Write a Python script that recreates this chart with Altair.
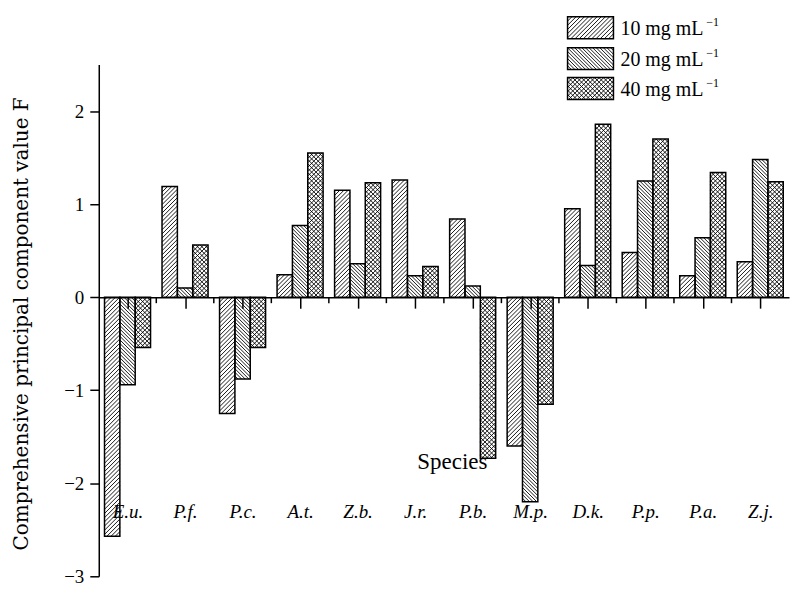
import json
import math
import altair as alt
import pandas as pd

# ---------------- data ----------------
species = ["E.u.", "P.f.", "P.c.", "A.t.", "Z.b.", "J.r.", "P.b.", "M.p.", "D.k.", "P.p.", "P.a.", "Z.j."]
concentrations = ["10 mg mL", "20 mg mL", "40 mg mL"]
unit_exponent = "\u22121"
v10 = [-2.57, 1.19, -1.25, 0.24, 1.15, 1.26, 0.84, -1.60, 0.95, 0.48, 0.23, 0.38]
v20 = [-0.94, 0.10, -0.88, 0.77, 0.36, 0.23, 0.12, -2.20, 0.34, 1.25, 0.64, 1.48]
v40 = [-0.54, 0.56, -0.54, 1.55, 1.23, 0.33, -1.73, -1.15, 1.86, 1.70, 1.34, 1.24]
y_tick_values = [-3.0, -2.5, -2.0, -1.5, -1.0, -0.5, 0.0, 0.5, 1.0, 1.5, 2.0, 2.5]
y_title = "Comprehensive principal component value F"
x_title = "Species"

# ---------------- layout ----------------
W, H = 692, 513
XMIN, XMAX = -0.5, len(species) - 0.5
YMIN, YMAX = -3.0, 2.5
SX = W / (XMAX - XMIN)
SY = H / (YMAX - YMIN)
GROUP = 0.8
BW = GROUP / 3
# hatch definition per concentration: (direction, period in px)
HATCH = [[("/", 4.2)], [("\\", 3.6)], [("/", 4.4), ("\\", 4.4)]]

SERIF = "Liberation Serif"


def hatch_segments(x0, x1, y0, y1, direction, period):
    """Diagonal hatch lines clipped to the rectangle (data units)."""
    gx0, gx1 = (x0 - XMIN) * SX, (x1 - XMIN) * SX
    gy0, gy1 = y0 * SY, y1 * SY
    out = []
    if direction == "/":
        for m in range(math.ceil((gy0 - gx1) / period), math.floor((gy1 - gx0) / period) + 1):
            k = m * period
            a = max(gx0, gy0 - k)
            b = min(gx1, gy1 - k)
            if b - a > 0.4:
                out.append((a, a + k, b, b + k))
    else:
        for m in range(math.ceil((gy0 + gx0) / period), math.floor((gy1 + gx1) / period) + 1):
            k = m * period
            a = max(gx0, k - gy1)
            b = min(gx1, k - gy0)
            if b - a > 0.4:
                out.append((a, k - a, b, k - b))
    return [
        {"hx": a / SX + XMIN, "hy": ay / SY, "hx2": b / SX + XMIN, "hy2": by / SY}
        for a, ay, b, by in out
    ]


series = [v10, v20, v40]
bar_rows, hatch_rows = [], []
for k, vals in enumerate(series):
    for i, (sp, v) in enumerate(zip(species, vals)):
        x0 = i - GROUP / 2 + k * BW
        x1 = x0 + BW
        y0, y1 = min(0.0, v), max(0.0, v)
        bar_rows.append({"species": sp, "conc": concentrations[k], "x0": x0, "x1": x1, "y0": y0, "y1": y1})
        for d, p in HATCH[k]:
            hatch_rows += hatch_segments(x0, x1, y0, y1, d, p)

# legend (layout in px relative to plot top-left, converted to data units)
LEG_X0, LEG_X1 = 470, 516
LEG_TOPS = [-48, -17, 13]
LEG_H = 22
leg_rows, leg_text, leg_sup = [], [], []
for k, top in enumerate(LEG_TOPS):
    lx0, lx1 = XMIN + LEG_X0 / SX, XMIN + LEG_X1 / SX
    ly1, ly0 = YMAX - top / SY, YMAX - (top + LEG_H) / SY
    leg_rows.append({"x0": lx0, "x1": lx1, "y0": ly0, "y1": ly1})
    for d, p in HATCH[k]:
        hatch_rows += hatch_segments(lx0, lx1, ly0, ly1, d, p)
    leg_text.append({"tx": XMIN + (LEG_X1 + 7) / SX, "ty": YMAX - (top + 12) / SY, "t": concentrations[k]})
    leg_sup.append({"tx": XMIN + (LEG_X1 + 93) / SX, "ty": YMAX - (top + 5) / SY, "t": unit_exponent})

minor_rows = [{"mx": i + 0.5, "my": 0.0, "my2": -6 / SY} for i in range(len(species) - 1)]

bars_df = pd.DataFrame(bar_rows)
hatch_df = pd.DataFrame(hatch_rows)
leg_df = pd.DataFrame(leg_rows)
leg_text_df = pd.DataFrame(leg_text)
leg_sup_df = pd.DataFrame(leg_sup)
minor_df = pd.DataFrame(minor_rows)

xscale = alt.Scale(domain=[XMIN, XMAX], nice=False, zero=False)
yscale = alt.Scale(domain=[YMIN, YMAX], nice=False, zero=False)

x_axis = alt.Axis(
    values=list(range(len(species))),
    labelExpr=json.dumps(species) + "[datum.value]",
    title=x_title,
    titleX=354,
    titleY=165,
    titleAlign="center",
    titleBaseline="middle",
    titleFont=SERIF,
    titleFontSize=23,
    titleFontWeight="normal",
    titleColor="black",
    labelFont=SERIF,
    labelFontStyle="italic",
    labelFontSize=19,
    labelColor="black",
    labelPadding=204,
    labelBaseline="middle",
    labelFlush=False,
    labelOverlap=False,
    tickSize=11,
    tickWidth=1.5,
    tickColor="black",
    domainColor="black",
    domainWidth=1.5,
    offset=-(H * (0 - YMIN) / (YMAX - YMIN)),
    grid=False,
    zindex=1,
)

y_axis = alt.Axis(
    values=y_tick_values,
    format="d",
    labelExpr="datum.value % 1 === 0 ? datum.label : ''",
    title=y_title,
    titleFont="DejaVu Serif",
    titleFontSize=20,
    titleFontWeight="normal",
    titleColor="black",
    titleX=-71,
    titleY=H / 2 + 3,
    titleAngle=-90,
    titleAlign="center",
    titleBaseline="alphabetic",
    labelFont=SERIF,
    labelFontSize=19,
    labelColor="black",
    labelPadding=6,
    labelOverlap=False,
    labelFlush=False,
    tickSize=9,
    tickWidth=1.5,
    tickColor="black",
    domainColor="black",
    domainWidth=1.5,
    grid=False,
    zindex=1,
)


def X(f):
    return alt.X(f, type="quantitative", scale=xscale, axis=x_axis)


def Y(f):
    return alt.Y(f, type="quantitative", scale=yscale, axis=y_axis)


bars_fill = alt.Chart(bars_df).mark_rect(fill="white", strokeWidth=0).encode(
    x=X("x0"), x2="x1", y=Y("y0"), y2="y1"
)
leg_fill = alt.Chart(leg_df).mark_rect(fill="white", strokeWidth=0).encode(
    x=X("x0"), x2="x1", y=Y("y0"), y2="y1"
)
hatch = alt.Chart(hatch_df).mark_rule(color="black", strokeWidth=0.9).encode(
    x=X("hx"), x2="hx2", y=Y("hy"), y2="hy2"
)
bars_outline = alt.Chart(bars_df).mark_rect(fill="white", fillOpacity=0, stroke="black", strokeWidth=1.5).encode(
    x=X("x0"), x2="x1", y=Y("y0"), y2="y1"
)
leg_outline = alt.Chart(leg_df).mark_rect(fill="white", fillOpacity=0, stroke="black", strokeWidth=1.5).encode(
    x=X("x0"), x2="x1", y=Y("y0"), y2="y1"
)
minor = alt.Chart(minor_df).mark_rule(color="black", strokeWidth=1.5).encode(
    x=X("mx"), y=Y("my"), y2="my2"
)
leg_labels = alt.Chart(leg_text_df).mark_text(
    align="left", baseline="middle", font=SERIF, fontSize=20, color="black"
).encode(x=X("tx"), y=Y("ty"), text="t:N")
leg_sups = alt.Chart(leg_sup_df).mark_text(
    align="left", baseline="middle", font=SERIF, fontSize=12, color="black"
).encode(x=X("tx"), y=Y("ty"), text="t:N")

chart = (
    alt.layer(bars_fill, leg_fill, hatch, bars_outline, leg_outline, minor, leg_labels, leg_sups)
    .properties(width=W, height=H, padding={"left": 3, "top": 6, "right": 2, "bottom": 0}, background="white")
    .configure_view(stroke=None)
)

chart.save("out.html", embed_options={"renderer": "svg", "actions": False})
